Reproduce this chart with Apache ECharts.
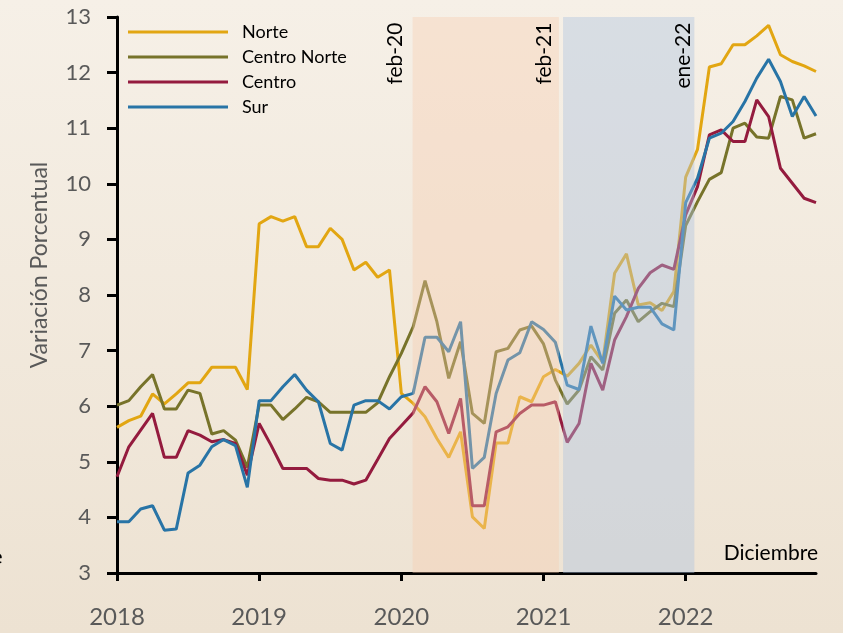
<!DOCTYPE html>
<html>
<head>
<meta charset="utf-8">
<script src="https://cdn.jsdelivr.net/npm/echarts@6.0.0/dist/echarts.min.js"></script>
<style>
  html, body { margin: 0; padding: 0; }
  #chart {
    width: 843px;
    height: 633px;
    background: linear-gradient(#f6f0e7, #ede2d2);
  }
</style>
</head>
<body>
<div id="chart"></div>
<script>
// meses ene-18 ... dic-22
const meses = ["ene", "feb", "mar", "abr", "may", "jun", "jul", "ago", "sep", "oct", "nov", "dic"];
const anios = ["2018", "2019", "2020", "2021", "2022"];
const categorias = [];
anios.forEach((a) => meses.forEach((m) => categorias.push(m + "-" + a.slice(2))));

const norte = [
  5.62, 5.74, 5.82, 6.22, 6.04, 6.22, 6.42, 6.42, 6.70, 6.70, 6.70, 6.30,
  9.28, 9.41, 9.33, 9.41, 8.87, 8.87, 9.20, 9.00, 8.45, 8.59, 8.32, 8.45,
  6.23, 6.05, 5.81, 5.42, 5.08, 5.54, 4.01, 3.80, 5.34, 5.34, 6.17, 6.08,
  6.53, 6.66, 6.54, 6.77, 7.10, 6.79, 8.39, 8.74, 7.82, 7.86, 7.72, 8.06,
  10.12, 10.62, 12.10, 12.16, 12.50, 12.50, 12.66, 12.85, 12.32, 12.20, 12.12, 12.02,
];
const centroNorte = [
  6.02, 6.10, 6.35, 6.57, 5.95, 5.95, 6.29, 6.23, 5.50, 5.56, 5.39, 4.90,
  6.02, 6.02, 5.76, 5.95, 6.16, 6.08, 5.89, 5.89, 5.89, 5.89, 6.06, 6.53,
  6.95, 7.43, 8.26, 7.52, 6.50, 7.16, 5.87, 5.69, 6.98, 7.04, 7.37, 7.44,
  7.12, 6.47, 6.04, 6.29, 6.89, 6.65, 7.67, 7.91, 7.52, 7.70, 7.85, 7.79,
  9.25, 9.68, 10.08, 10.20, 11.00, 11.09, 10.84, 10.82, 11.57, 11.51, 10.82, 10.90,
];
const centro = [
  4.73, 5.27, 5.57, 5.87, 5.08, 5.08, 5.56, 5.48, 5.36, 5.40, 5.33, 4.76,
  5.69, 5.30, 4.88, 4.88, 4.88, 4.70, 4.67, 4.67, 4.60, 4.67, 5.04, 5.42,
  5.65, 5.88, 6.35, 6.08, 5.51, 6.14, 4.21, 4.21, 5.54, 5.63, 5.87, 6.02,
  6.02, 6.08, 5.35, 5.69, 6.77, 6.29, 7.19, 7.61, 8.12, 8.40, 8.54, 8.46,
  9.44, 9.95, 10.88, 10.97, 10.76, 10.76, 11.51, 11.21, 10.28, 10.01, 9.74, 9.66,
];
const sur = [
  3.92, 3.92, 4.15, 4.21, 3.77, 3.79, 4.80, 4.94, 5.27, 5.40, 5.29, 4.54,
  6.10, 6.10, 6.35, 6.57, 6.29, 6.08, 5.33, 5.21, 6.02, 6.10, 6.10, 5.95,
  6.17, 6.23, 7.24, 7.24, 6.98, 7.52, 4.88, 5.08, 6.23, 6.83, 6.96, 7.52,
  7.38, 7.15, 6.38, 6.30, 7.44, 6.77, 7.98, 7.73, 7.78, 7.78, 7.48, 7.37,
  9.66, 10.10, 10.82, 10.91, 11.12, 11.48, 11.90, 12.24, 11.84, 11.21, 11.57, 11.22,
];

const nombres = ["Norte", "Centro Norte", "Centro", "Sur"];
const valores = [norte, centroNorte, centro, sur];
const colores = ["#e2a612", "#77732a", "#941b3e", "#2874a6"];
const etiquetasPeriodo = ["feb-20", "feb-21", "ene-22"];

const fuente = "Lato";
const chart = echarts.init(document.getElementById("chart"));

// indices de enero de cada año
const eneros = anios.map((a, i) => i * 12);
const idx = (m) => categorias.indexOf(m);

const option = {
  backgroundColor: "transparent",
  animation: false,
  textStyle: { fontFamily: fuente },
  grid: { left: 117, right: 27, top: 17, bottom: 60 },
  legend: {
    data: nombres,
    orient: "vertical",
    left: 128,
    top: 23,
    padding: 0,
    icon: "rect",
    itemWidth: 100,
    itemHeight: 3,
    itemGap: 7,
    textStyle: { fontFamily: fuente, fontSize: 18, lineHeight: 17, color: "#000", padding: [0, 0, 0, 9] },
  },
  xAxis: {
    type: "value",
    min: 0,
    max: categorias.length - 1,
    axisLine: { show: true, lineStyle: { color: "#000", width: 3 } },
    axisTick: { show: true, customValues: eneros, length: 8, lineStyle: { color: "#000", width: 3 } },
    axisLabel: {
      customValues: eneros,
      formatter: (v) => anios[Math.round(v / 12)],
      color: "#595959",
      fontSize: 24,
      margin: 32,
      fontFamily: fuente,
    },
    splitLine: { show: false },
  },
  yAxis: {
    type: "value",
    min: 3,
    max: 13,
    interval: 1,
    axisLine: { show: true, lineStyle: { color: "#000", width: 3 } },
    axisTick: { show: true, length: 10, lineStyle: { color: "#000", width: 3 } },
    axisLabel: { color: "#595959", fontSize: 22, margin: 26, fontFamily: fuente },
    splitLine: { show: false },
  },
  series: [
    ...nombres.map((n, k) => ({
      name: n,
      type: "line",
      z: 2,
      symbol: "none",
      color: colores[k],
      lineStyle: { width: 3, color: colores[k] },
      data: valores[k].map((v, i) => [i, v]),
    })),
    {
      // franjas sombreadas encima de las lineas
      name: "periodos",
      type: "line",
      z: 10,
      silent: true,
      data: [],
      markArea: {
        silent: true,
        z: 20,
        data: [
          [
            { xAxis: idx("feb-20") - 0.05, itemStyle: { color: "rgba(248,203,173,0.37)" } },
            { xAxis: idx("feb-21") + 0.3 },
          ],
          [
            { xAxis: idx("feb-21") + 0.65, itemStyle: { color: "rgba(175,195,225,0.42)" } },
            { xAxis: idx("ene-22") + 0.73 },
          ],
        ],
      },
    },
  ],
};
chart.setOption(option);

// textos: etiquetas verticales, titulo del eje, nota
const px = (x, y) => chart.convertToPixel({ gridIndex: 0 }, [x, y]);
const desfase = [-1.5, -0.9, -0.2];
const graficos = etiquetasPeriodo.map((t, k) => {
  const p = px(idx(t) + desfase[k], 12.9);
  return {
    type: "text",
    x: p[0],
    y: p[1],
    rotation: Math.PI / 2,
    z: 100,
    style: { text: t, fill: "#000", font: "21px " + fuente, align: "right", verticalAlign: "middle" },
  };
});
graficos.push({
  type: "text",
  x: 40,
  y: 265,
  rotation: Math.PI / 2,
  z: 100,
  style: { text: "Variación Porcentual", fill: "#595959", font: "23px " + fuente, align: "center", verticalAlign: "middle" },
});
graficos.push({
  type: "text",
  x: 818,
  y: 553,
  z: 100,
  style: { text: "Diciembre", fill: "#000", font: "21px " + fuente, align: "right", verticalAlign: "middle" },
});
graficos.push({
  type: "text",
  x: -9,
  y: 557,
  z: 100,
  style: { text: "e", fill: "#000", font: "22px " + fuente, align: "left", verticalAlign: "middle" },
});
chart.setOption({ graphic: graficos });
</script>
</body>
</html>
